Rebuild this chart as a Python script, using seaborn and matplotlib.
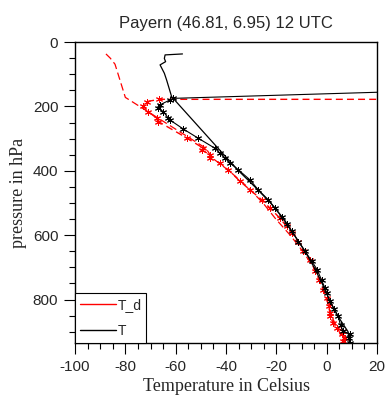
import numpy as np
import pandas as pd
import seaborn as sns
import matplotlib.pyplot as plt
from matplotlib.lines import Line2D
from matplotlib.ticker import MultipleLocator

# profile lines (no markers)
p_line_T = [37, 40, 51, 61, 71, 97, 118, 170, 175, 360, 400, 450, 500, 550, 600,
            650, 700, 750, 800, 850, 900, 934]
T_line = [-57.3, -64.2, -64.5, -64.0, -66.2, -64.5, -63.6, -61.6, -61.0, -39.7, -35.0,
          -28.5, -22.3, -17.0, -12.8, -8.6, -5.0, -1.8, 1.0, 4.3, 8.5, 9.0]

p_line_Td = [37, 50, 69, 172, 330, 360, 400, 450, 500, 550, 600, 650, 700, 750,
             800, 850, 900, 930]
Td_line = [-87.7, -86.0, -84.1, -80.0, -48.0, -45.5, -38.8, -31.5, -25.3, -20.2,
           -14.5, -9.5, -5.2, -2.3, 0.0, 1.8, 5.0, 6.6]

# observed points (with markers), last value is a flagged/missing level
p_obs_T = [934, 920, 908, 898, 880, 852, 830, 805, 780, 764, 740, 707, 680, 650, 620,
           588, 565, 542, 516, 490, 459, 428, 397, 376, 360, 345, 330, 299, 270, 242,
           237, 216, 206, 195, 180, 175, 114]
T_obs = [9.3, 9.0, 9.3, 6.6, 5.5, 4.6, 3.0, 1.3, 0.0, -0.7, -2.0, -3.8, -6.0, -8.6,
         -11.2, -13.9, -15.9, -17.9, -20.5, -23.2, -27.2, -30.5, -35.1, -38.4, -40.5,
         -42.4, -44.4, -51.0, -57.0, -62.3, -62.9, -64.9, -66.9, -66.2, -62.3, -61.0, 200.0]

p_obs_Td = [929, 919, 908, 898, 888, 872, 852, 841, 820, 795, 769, 740, 712, 676, 650,
            620, 593, 573, 547, 516, 490, 459, 433, 397, 376, 361, 350, 335, 330, 298,
            247, 237, 216, 200, 185, 178, 178]
Td_obs = [6.6, 7.3, 6.0, 6.6, 4.0, 2.6, 1.3, 1.3, 0.8, 0.0, -1.3, -3.0, -4.6, -6.6,
          -9.3, -11.5, -13.9, -15.9, -18.6, -22.5, -25.8, -30.5, -34.4, -39.1, -42.4,
          -46.4, -46.4, -49.7, -49.0, -55.6, -66.9, -67.5, -70.9, -72.9, -71.5, -66.5, 300.0]

sns.set_style("white")
plt.rcParams['font.family'] = ['Liberation Sans', 'DejaVu Sans']
plt.rcParams['axes.unicode_minus'] = False

fig = plt.figure(figsize=(3.88, 4.01), dpi=100)
ax = fig.add_axes([0.1933, 0.1446, 0.7784, 0.7506])

star = (6, 2, 0)
sns.lineplot(x=Td_line, y=p_line_Td, sort=False, estimator=None, ax=ax,
             color='red', lw=0.9, linestyle=(0, (6, 3)))
sns.lineplot(x=Td_obs, y=p_obs_Td, sort=False, estimator=None, ax=ax,
             color='red', lw=1.0, linestyle=(0, (5, 3)), marker=star, markersize=5,
             markeredgecolor='red', markeredgewidth=0.7)
sns.lineplot(x=T_line, y=p_line_T, sort=False, estimator=None, ax=ax,
             color='black', lw=0.9)
sns.lineplot(x=T_obs, y=p_obs_T, sort=False, estimator=None, ax=ax,
             color='black', lw=0.8, marker=star, markersize=5,
             markeredgecolor='black', markeredgewidth=0.7)

ax.set_xlim(-100, 20)
ax.set_ylim(935, 0)
ax.xaxis.set_major_locator(MultipleLocator(20))
ax.xaxis.set_minor_locator(MultipleLocator(5))
ax.yaxis.set_major_locator(MultipleLocator(200))
ax.yaxis.set_minor_locator(MultipleLocator(50))
ax.tick_params(which='both', direction='out', top=False, right=False,
               bottom=True, left=True, labelsize=11, color='black', width=0.8)
ax.tick_params(which='major', length=8, pad=4)
ax.tick_params(which='minor', length=4)
for s in ax.spines.values():
    s.set_color('black')
    s.set_linewidth(1.0)

ax.set_xlabel('Temperature in Celsius', family='Liberation Serif', fontsize=13, labelpad=3)
ax.set_ylabel('pressure in hPa', family='Liberation Serif', fontsize=13, labelpad=4)
ax.set_title('Payern (46.81, 6.95) 12 UTC', fontsize=12, pad=10)

handles = [Line2D([], [], color='red', lw=1.0), Line2D([], [], color='black', lw=1.0)]
leg = ax.legend(handles, ['T_d', 'T'], loc='lower left', borderaxespad=0,
                fancybox=False, edgecolor='black', framealpha=1, fontsize=10,
                handlelength=2.6, handletextpad=0.1, labelspacing=0.9,
                borderpad=0.35)
leg.get_frame().set_linewidth(0.8)

fig.savefig('out.png', dpi=100)
